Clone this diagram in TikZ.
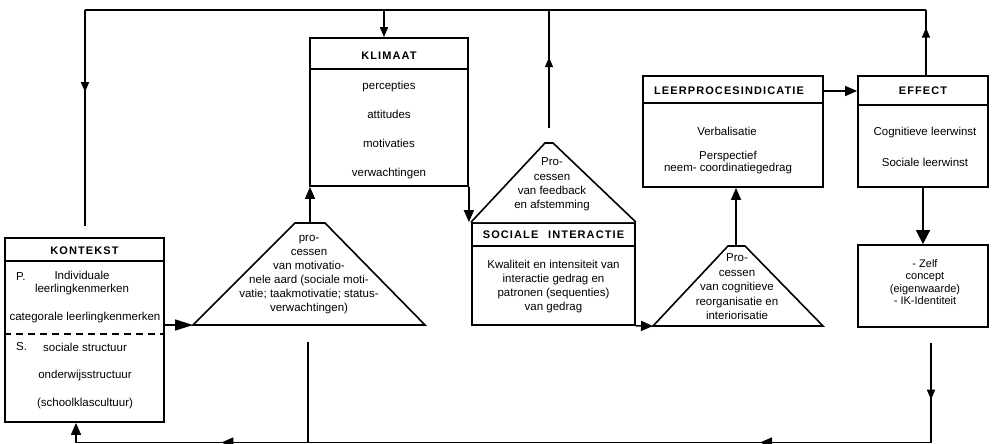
\documentclass[tikz,border=0pt]{standalone}
\usepackage{fontspec}
\setmainfont{Liberation Sans}
\newfontfamily\hdrfont[LetterSpace=10]{Liberation Sans}
\usetikzlibrary{arrows.meta,decorations.markings}
\begin{document}
\begin{tikzpicture}[x=1pt,y=-1pt,
  ln/.style={line width=1.6pt},
  boxst/.style={draw, line width=1.8pt, rectangle, inner sep=0pt},
  tri/.style={draw, line width=1.6pt, line join=miter, fill=white},
  hdr/.style={font=\hdrfont\bfseries\fontsize{11}{12}\selectfont, inner sep=0pt},
  txt/.style={font=\fontsize{11.5}{14}\selectfont, align=center, inner sep=0pt},
  arr/.style={ln, -{Triangle[length=12pt,width=10pt]}},
  midarr/.style={ln, postaction={decorate}, decoration={markings, mark=at position #1 with {\arrow{Triangle[length=10pt,width=8pt]}}}},
  twoarr/.style={ln, postaction={decorate}, decoration={markings,
     mark=at position 0.2 with {\arrow{Triangle[length=12pt,width=10pt]}},
     mark=at position 0.83 with {\arrow{Triangle[length=12pt,width=10pt]}}}}
]
\useasboundingbox (0,0) rectangle (993,444);
\fill[white] (0,0) rectangle (993,444);

% ---------- boxes
\node[boxst, minimum width=159pt, minimum height=184pt] (kont) at (84.5,330) {};
\node[boxst, minimum width=158pt, minimum height=148pt] (klim) at (389,112) {};
\node[boxst, minimum width=163pt, minimum height=102pt] (soc) at (553.5,274) {};
\node[boxst, minimum width=180pt, minimum height=111pt] (lpi) at (733,131.5) {};
\node[boxst, minimum width=130pt, minimum height=111pt] (eff) at (923,131.5) {};
\node[boxst, minimum width=130pt, minimum height=82pt] (zelf) at (923,286) {};

% header separators
\draw[ln] (kont.west |- 0,261) -- (kont.east |- 0,261);
\draw[ln, dash pattern=on 7pt off 5pt] (kont.west |- 0,334) -- (kont.east |- 0,334);
\draw[ln] (klim.west |- 0,69) -- (klim.east |- 0,69);
\draw[ln] (soc.west |- 0,246) -- (soc.east |- 0,246);
\draw[ln] (lpi.west |- 0,103) -- (lpi.east |- 0,103);
\draw[ln] (eff.west |- 0,105) -- (eff.east |- 0,105);

% ---------- triangles
\coordinate (t1l) at (193,325);
\coordinate (t1r) at (425,325);
\coordinate (t1t) at (310,223);
\draw[tri] (t1l) -- (295,223) -- (325,223) -- (t1r) -- cycle;

\coordinate (t2l) at (653,326);
\coordinate (t2r) at (823,326);
\coordinate (t2t) at (736,246);
\draw[tri] (t2l) -- (728,246) -- (745,246) -- (t2r) -- cycle;

\coordinate (roof) at (549,143);
\draw[tri] (soc.north west) -- (545,143) -- (553,143) -- (soc.north east);

% ---------- texts
\node[hdr] (kont-h) at (84.5,251) {KONTEKST};
\node[txt, anchor=west] (kont-p) at (16,277) {P.};
\node[txt, font=\fontsize{11.5}{12.5}\selectfont] (kont-1) at (82,283) {Individuale\\leerlingkenmerken};
\node[txt] (kont-2) at (85,318) {categorale leerlingkenmerken};
\node[txt, anchor=west] (kont-s) at (16,347) {S.};
\node[txt] (kont-3) at (85,347) {sociale structuur};
\node[txt] (kont-4) at (85,376) {onderwijsstructuur};
\node[txt] (kont-5) at (85,404) {(schoolklascultuur)};

\node[hdr] (klim-h) at (389,56) {KLIMAAT};
\node[txt, font=\fontsize{11.5}{29}\selectfont] (klim-b) at (389,130.5)
  {percepties\\attitudes\\motivaties\\verwachtingen};

\node[txt, font=\fontsize{11.5}{14.3}\selectfont] (soc-r) at (552,184.5)
  {Pro-\\cessen\\van feedback\\en afstemming};
\node[hdr] (soc-h) at (553.5,235) {SOCIALE\hspace{0.9em}INTERACTIE};
\node[txt, font=\fontsize{11.5}{13.7}\selectfont] (soc-b) at (553.5,286.5)
  {Kwaliteit en intensiteit van\\interactie gedrag en\\patronen (sequenties)\\van gedrag};

\node[txt] (t1-txt) at (309,275)
  {pro-\\cessen\\van motivatio-\\nele aard (sociale moti-\\vatie; taakmotivatie; status-\\verwachtingen)};
\node[txt, font=\fontsize{11.5}{14.5}\selectfont] (t2-txt) at (737,287)
  {Pro-\\cessen\\van cognitieve\\reorganisatie en\\interiorisatie};

\node[hdr] (lpi-h) at (729,90.5) {LEERPROCESINDICATIE};
\node[txt] (lpi-1) at (727,131) {Verbalisatie};
\node[txt, font=\fontsize{11.5}{11.5}\selectfont] (lpi-2) at (728,162.5) {Perspectief\\neem- coordinatiegedrag};

\node[hdr] (eff-h) at (923,90.5) {EFFECT};
\node[txt] (eff-1) at (925,133) {Cognitieve leerwinst};
\node[txt] (eff-2) at (925,162) {Sociale leerwinst};

\node[txt, font=\fontsize{11}{12.5}\selectfont] (zelf-b) at (925,282)
  {- Zelf\\concept\\(eigenwaarde)\\- IK-Identiteit};

% ---------- connectors
\draw[ln, -{Triangle[length=18pt,width=11pt]}] (kont.east |- t1l) -- (t1l);
\draw[arr] (t1t) -- (t1t |- klim.south);
\draw[arr] (klim.south east) -- (klim.south east |- soc.north);
\draw[arr] (soc.south east) -- (t2l);
\draw[arr] (t2t) -- (t2t |- lpi.south);
\draw[arr] (lpi.east |- 0,91) -- (eff.west |- 0,91);
\draw[ln, -{Triangle[length=14pt,width=14pt]}] (eff.south) -- (zelf.north);

% bottom feedback
\coordinate (zb) at (931,343);
\coordinate (br) at (931,442.5);
\coordinate (bl) at (76,442.5);
\coordinate (t1d) at (308,342);
\draw[midarr=0.57] (zb) -- (br);
\draw[twoarr] (br) -- (bl);
\draw[arr] (bl) -- (bl |- kont.south);
\draw[ln] (t1d) -- (t1d |- bl);

% top feedback
\coordinate (tr) at (926,10);
\coordinate (tl) at (85,10);
\coordinate (kt) at (85,226);
\coordinate (km) at (384,10);
\coordinate (rf) at (549,10);
\coordinate (rb) at (549,128);
\draw[midarr=0.73] (eff.north -| tr) -- (tr);
\draw[ln] (tr) -- (tl);
\draw[midarr=0.38] (tl) -- (kt);
\draw[ln, -{Triangle[length=10pt,width=8pt]}] (km) -- (km |- klim.north);
\draw[midarr=0.6] (rb) -- (rf);
\end{tikzpicture}
\end{document}
